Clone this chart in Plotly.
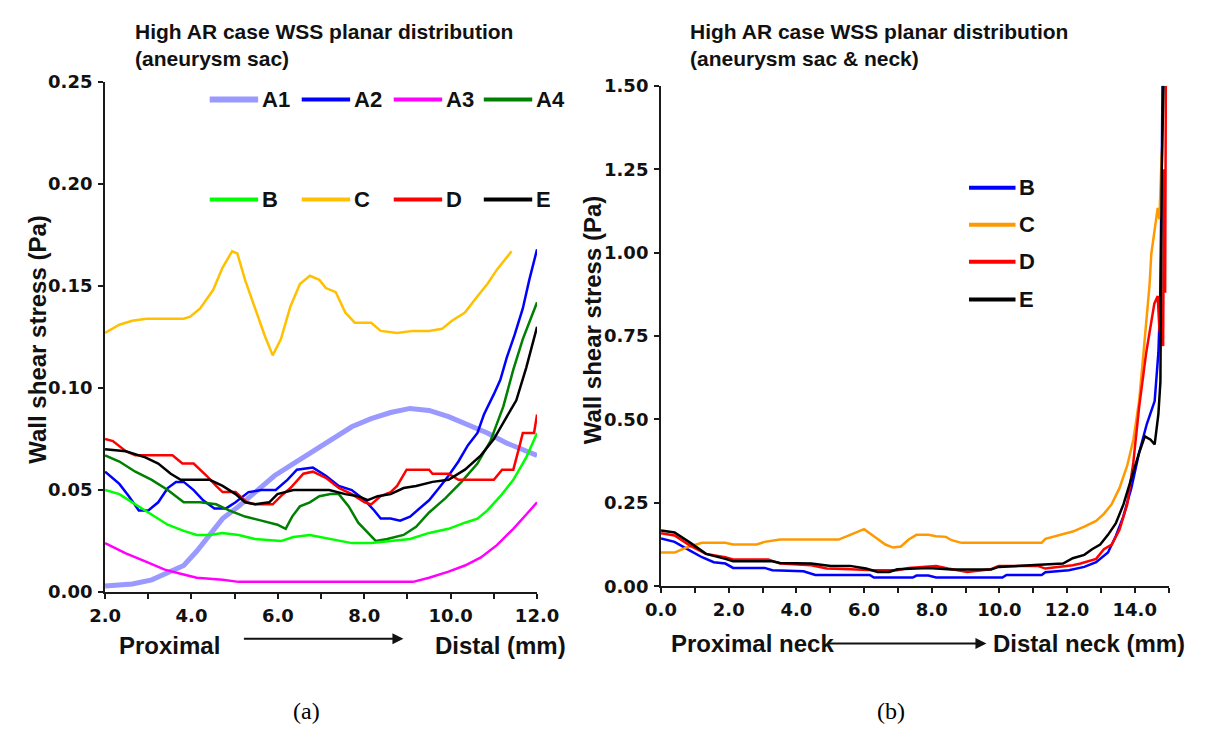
import plotly.graph_objects as go

W, H = 1207, 742

# ---------------- Panel (a): aneurysm sac ----------------
x_A1 = [2.0, 2.63, 3.08, 3.52, 3.82, 4.12, 4.42, 4.72, 5.09, 5.47, 5.92, 6.36, 6.81, 7.26, 7.71, 8.16, 8.61, 9.06, 9.5, 9.95, 10.4, 10.85, 11.3, 12.0]
y_A1 = [0.003, 0.004, 0.006, 0.010, 0.013, 0.020, 0.028, 0.036, 0.042, 0.049, 0.057, 0.063, 0.069, 0.075, 0.081, 0.085, 0.088, 0.090, 0.089, 0.086, 0.082, 0.078, 0.073, 0.067]

x_A2 = [2.0, 2.33, 2.55, 2.78, 3.0, 3.23, 3.45, 3.64, 3.82, 4.05, 4.27, 4.53, 4.8, 5.02, 5.32, 5.62, 5.95, 6.22, 6.44, 6.81, 7.11, 7.41, 7.71, 8.01, 8.23, 8.38, 8.61, 8.83, 9.06, 9.28, 9.5, 9.73, 9.95, 10.18, 10.4, 10.62, 10.77, 11.0, 11.15, 11.3, 11.48, 11.67, 11.82, 12.0]
y_A2 = [0.059, 0.053, 0.047, 0.040, 0.040, 0.044, 0.051, 0.054, 0.054, 0.050, 0.045, 0.041, 0.041, 0.044, 0.049, 0.050, 0.050, 0.055, 0.060, 0.061, 0.057, 0.052, 0.050, 0.045, 0.040, 0.036, 0.036, 0.035, 0.037, 0.041, 0.045, 0.051, 0.057, 0.064, 0.072, 0.078, 0.087, 0.097, 0.104, 0.115, 0.126, 0.139, 0.153, 0.168]

x_A3 = [2.0, 2.48, 2.93, 3.38, 3.75, 4.12, 4.72, 5.09, 6.22, 6.96, 7.41, 9.13, 9.5, 9.95, 10.33, 10.7, 11.07, 11.45, 11.75, 12.0]
y_A3 = [0.024, 0.019, 0.015, 0.011, 0.009, 0.007, 0.006, 0.005, 0.005, 0.005, 0.005, 0.005, 0.007, 0.010, 0.013, 0.017, 0.023, 0.031, 0.038, 0.044]

x_A4 = [2.0, 2.33, 2.7, 3.08, 3.45, 3.82, 4.2, 4.57, 4.87, 5.24, 5.62, 5.99, 6.18, 6.33, 6.51, 6.74, 6.96, 7.22, 7.41, 7.64, 7.86, 8.08, 8.27, 8.53, 8.91, 9.2, 9.5, 9.88, 10.25, 10.62, 10.92, 11.22, 11.45, 11.67, 12.0]
y_A4 = [0.067, 0.064, 0.059, 0.055, 0.050, 0.044, 0.044, 0.043, 0.040, 0.037, 0.035, 0.033, 0.031, 0.037, 0.042, 0.044, 0.047, 0.048, 0.048, 0.042, 0.034, 0.029, 0.025, 0.026, 0.028, 0.032, 0.039, 0.046, 0.054, 0.063, 0.074, 0.091, 0.109, 0.124, 0.142]

x_B = [2.0, 2.33, 2.7, 3.08, 3.45, 3.82, 4.12, 4.42, 4.72, 5.09, 5.47, 6.07, 6.36, 6.74, 7.19, 7.71, 8.16, 8.61, 9.06, 9.5, 9.95, 10.33, 10.62, 10.85, 11.15, 11.45, 11.75, 12.0]
y_B = [0.050, 0.048, 0.043, 0.038, 0.033, 0.030, 0.028, 0.028, 0.029, 0.028, 0.026, 0.025, 0.027, 0.028, 0.026, 0.024, 0.024, 0.025, 0.026, 0.029, 0.031, 0.034, 0.036, 0.040, 0.047, 0.055, 0.066, 0.078]

x_C = [2.0, 2.33, 2.63, 2.96, 3.23, 3.82, 3.97, 4.2, 4.5, 4.72, 4.94, 5.06, 5.24, 5.47, 5.69, 5.88, 6.07, 6.29, 6.51, 6.74, 6.96, 7.11, 7.34, 7.56, 7.78, 8.16, 8.38, 8.76, 9.13, 9.5, 9.8, 10.03, 10.33, 10.62, 10.85, 11.07, 11.41]
y_C = [0.127, 0.131, 0.133, 0.134, 0.134, 0.134, 0.135, 0.139, 0.148, 0.159, 0.167, 0.166, 0.153, 0.139, 0.126, 0.116, 0.124, 0.140, 0.151, 0.155, 0.153, 0.149, 0.147, 0.137, 0.132, 0.132, 0.128, 0.127, 0.128, 0.128, 0.129, 0.133, 0.137, 0.145, 0.151, 0.158, 0.167]

x_D = [2.0, 2.18, 2.48, 2.7, 3.56, 3.79, 4.05, 4.35, 4.57, 4.72, 5.02, 5.28, 5.47, 5.88, 6.07, 6.29, 6.59, 6.81, 7.11, 7.41, 7.71, 8.01, 8.16, 8.38, 8.61, 8.76, 8.98, 9.5, 9.58, 9.95, 10.18, 11.0, 11.19, 11.45, 11.6, 11.67, 11.93, 12.0]
y_D = [0.075, 0.074, 0.069, 0.067, 0.067, 0.063, 0.063, 0.057, 0.052, 0.049, 0.049, 0.044, 0.043, 0.043, 0.047, 0.051, 0.058, 0.059, 0.056, 0.051, 0.048, 0.044, 0.043, 0.047, 0.049, 0.052, 0.060, 0.060, 0.058, 0.058, 0.055, 0.055, 0.060, 0.060, 0.072, 0.078, 0.078, 0.087]

x_E = [2.0, 2.48, 2.93, 3.23, 3.52, 3.75, 4.2, 4.42, 4.72, 5.02, 5.24, 5.47, 5.8, 5.99, 6.36, 6.81, 7.19, 7.56, 7.86, 8.08, 8.31, 8.61, 8.91, 9.2, 9.58, 9.95, 10.33, 10.7, 11.0, 11.3, 11.52, 11.75, 11.93, 12.0]
y_E = [0.070, 0.069, 0.066, 0.063, 0.058, 0.055, 0.055, 0.055, 0.052, 0.048, 0.044, 0.043, 0.044, 0.048, 0.050, 0.050, 0.050, 0.048, 0.047, 0.045, 0.047, 0.048, 0.051, 0.052, 0.054, 0.055, 0.060, 0.067, 0.075, 0.086, 0.094, 0.110, 0.124, 0.130]

# ---------------- Panel (b): aneurysm sac & neck ----------------
xb_B = [0, 0.4, 0.87, 1.21, 1.56, 1.9, 2.13, 3.06, 3.29, 4.21, 4.56, 6.17, 6.29, 7.44, 7.55, 7.9, 8.13, 10.09, 10.21, 11.25, 11.36, 12.05, 12.51, 12.86, 13.21, 13.44, 13.66, 13.9, 14.13, 14.36, 14.59, 14.7, 14.75, 14.78, 14.8, 14.82]
yb_B = [0.143, 0.133, 0.106, 0.087, 0.072, 0.068, 0.055, 0.055, 0.048, 0.045, 0.034, 0.034, 0.026, 0.026, 0.032, 0.032, 0.026, 0.026, 0.034, 0.034, 0.042, 0.048, 0.058, 0.072, 0.101, 0.150, 0.208, 0.294, 0.400, 0.487, 0.555, 0.700, 0.850, 1.030, 1.250, 1.500]

xb_C = [0, 0.4, 0.75, 1.21, 1.9, 2.13, 2.83, 3.06, 3.52, 5.25, 5.59, 6.0, 6.29, 6.63, 6.86, 7.09, 7.32, 7.55, 7.9, 8.13, 8.42, 8.59, 8.88, 11.25, 11.36, 11.82, 12.17, 12.51, 12.86, 13.09, 13.32, 13.55, 13.78, 13.96, 14.13, 14.24, 14.34, 14.44, 14.49, 14.58, 14.68, 14.73, 14.8]
yb_C = [0.101, 0.101, 0.116, 0.130, 0.130, 0.125, 0.125, 0.133, 0.140, 0.140, 0.154, 0.171, 0.150, 0.125, 0.116, 0.119, 0.140, 0.154, 0.154, 0.150, 0.148, 0.138, 0.130, 0.130, 0.142, 0.154, 0.164, 0.179, 0.196, 0.217, 0.246, 0.294, 0.362, 0.439, 0.555, 0.676, 0.790, 0.905, 0.996, 1.065, 1.134, 1.100, 1.300]

xb_D = [0, 0.4, 0.87, 1.33, 1.9, 2.13, 3.17, 3.52, 4.44, 4.9, 5.59, 6.29, 6.98, 7.32, 8.13, 8.48, 9.05, 9.75, 9.98, 11.13, 11.36, 11.82, 12.17, 12.4, 12.86, 13.09, 13.32, 13.55, 13.78, 13.96, 14.13, 14.34, 14.49, 14.58, 14.68, 14.73, 14.84, 14.87, 14.9, 14.92]
yb_D = [0.159, 0.152, 0.121, 0.097, 0.087, 0.080, 0.080, 0.068, 0.063, 0.053, 0.051, 0.048, 0.048, 0.055, 0.061, 0.053, 0.043, 0.051, 0.061, 0.061, 0.053, 0.058, 0.063, 0.068, 0.082, 0.111, 0.125, 0.169, 0.246, 0.372, 0.536, 0.700, 0.790, 0.847, 0.870, 0.770, 0.720, 1.250, 0.880, 1.500]

xb_E = [0, 0.4, 0.87, 1.33, 1.9, 2.13, 3.29, 3.52, 4.44, 5.02, 5.59, 6.06, 6.4, 6.75, 6.98, 7.9, 8.59, 9.75, 9.98, 11.36, 11.88, 12.17, 12.51, 12.74, 12.98, 13.21, 13.44, 13.67, 13.9, 14.13, 14.3, 14.47, 14.59, 14.7, 14.76, 14.78, 14.8, 14.85]
yb_E = [0.167, 0.161, 0.130, 0.097, 0.082, 0.075, 0.075, 0.070, 0.068, 0.061, 0.061, 0.053, 0.043, 0.043, 0.051, 0.055, 0.050, 0.050, 0.058, 0.065, 0.068, 0.084, 0.094, 0.111, 0.125, 0.154, 0.188, 0.246, 0.323, 0.400, 0.449, 0.439, 0.425, 0.516, 0.613, 0.850, 1.250, 1.500]

left_names = ["A1", "A2", "A3", "A4", "B", "C", "D", "E"]
left_x = [x_A1, x_A2, x_A3, x_A4, x_B, x_C, x_D, x_E]
left_y = [y_A1, y_A2, y_A3, y_A4, y_B, y_C, y_D, y_E]
left_colors = ["#9999FF", "#0000FF", "#FF00FF", "#008000", "#00FF00", "#FFC000", "#FF0000", "#000000"]
left_widths = [5, 2.5, 2.5, 2.5, 2.5, 2.5, 2.5, 2.5]

right_names = ["B", "C", "D", "E"]
right_x = [xb_B, xb_C, xb_D, xb_E]
right_y = [yb_B, yb_C, yb_D, yb_E]
right_colors = ["#0000FF", "#FF9900", "#FF0000", "#000000"]

left_xrange = [2, 12]
right_xrange = [0, 15]

SANS = "Liberation Sans, Arial, sans-serif"
TICK = "DejaVu Sans, Verdana, sans-serif"
AX = "#1a1a1a"


def px(x):
    return x / W


def py(y):
    return 1 - y / H


fig = go.Figure()

for n, xs, ys, c, w in zip(left_names, left_x, left_y, left_colors, left_widths):
    fig.add_trace(go.Scatter(x=xs, y=ys, mode="lines", name=n, line=dict(color=c, width=w),
                             xaxis="x", yaxis="y", showlegend=False))

for n, xs, ys, c in zip(right_names, right_x, right_y, right_colors):
    fig.add_trace(go.Scatter(x=xs, y=ys, mode="lines", name=n, line=dict(color=c, width=2.5),
                             xaxis="x2", yaxis="y2", showlegend=False))

common = dict(showline=True, linecolor=AX, linewidth=2, ticks="outside", ticklen=5, tickwidth=2,
              tickcolor=AX, showgrid=False, zeroline=False,
              tickfont=dict(family=TICK, size=18, color="#111", weight="bold"))

fig.update_layout(
    width=W, height=H, margin=dict(l=0, r=0, t=0, b=0), autosize=False,
    paper_bgcolor="white", plot_bgcolor="white",
    xaxis=dict(domain=[px(92), px(538)], range=left_xrange, anchor="y", dtick=2, tick0=2,
               tickformat=".1f", ticklabelstandoff=1,
               minor=dict(dtick=1, ticks="outside", ticklen=5, tickwidth=2, tickcolor=AX), **common),
    yaxis=dict(domain=[py(598), py(73)], range=[0, 0.25], anchor="x", dtick=0.05,
               tickformat=".2f", ticklabelstandoff=2, **common),
    xaxis2=dict(domain=[px(666), px(1190)], range=right_xrange, anchor="y2", dtick=2, tick0=0,
                tickformat=".1f", ticklabelstandoff=1,
                minor=dict(dtick=1, ticks="outside", ticklen=5, tickwidth=2, tickcolor=AX), **common),
    yaxis2=dict(domain=[py(592), py(77)], range=[0, 1.5], anchor="x2", dtick=0.25,
                tickformat=".2f", ticklabelstandoff=2, **common),
)

ann = []
shapes = []


def text(x, y, s, font, xa="center", ya="middle", **kw):
    d = dict(x=px(x), y=py(y), xref="paper", yref="paper", xanchor=xa, yanchor=ya,
             showarrow=False, text=s, font=font)
    d.update(kw)
    ann.append(d)


title_font = dict(family=SANS, size=21, color="#111", weight="bold")
text(121, 7, "High AR case WSS planar distribution<br>(aneurysm sac)", title_font,
     xa="left", ya="top", align="left")
text(694, 7, "High AR case WSS planar distribution<br>(aneurysm sac &amp; neck)", title_font,
     xa="left", ya="top", align="left")

# y-axis titles
ytitle_font = dict(family=SANS, size=24, color="#111", weight="bold")
text(22, 338, "Wall shear stress (Pa)", ytitle_font, textangle=-90)
text(595, 318, "Wall shear stress (Pa)", ytitle_font, textangle=-90)

# x-axis descriptive labels with arrows
lab_font = dict(family=SANS, size=24, color="#111", weight="bold")
text(158, 653, "Proximal", lab_font)
text(500, 653, "Distal (mm)", lab_font)
ann.append(dict(x=px(400), y=py(646), xref="paper", yref="paper", showarrow=True, text="",
                ax=-161, ay=0, axref="pixel", ayref="pixel", arrowhead=2, arrowsize=1.1, arrowwidth=2,
                arrowcolor="#111"))
text(760, 651, "Proximal neck", lab_font)
text(1108, 651, "Distal neck (mm)", lab_font)
ann.append(dict(x=px(1002), y=py(651), xref="paper", yref="paper", showarrow=True, text="",
                ax=-159, ay=0, axref="pixel", ayref="pixel", arrowhead=2, arrowsize=1.1, arrowwidth=2,
                arrowcolor="#111"))

# panel labels
serif = dict(family="Liberation Serif, Times New Roman, serif", size=24, color="#000")
text(300, 720, "(a)", serif)
text(903, 720, "(b)", serif)

# legend for panel (a): two rows of four
leg_font = dict(family=SANS, size=22, color="#111", weight="bold")
col_x = [200, 295, 390, 483]
row_y = [91, 194]
for i, (n, c, w) in enumerate(zip(left_names, left_colors, left_widths)):
    r, k = divmod(i, 4)
    x0 = col_x[k]
    yy = row_y[r]
    shapes.append(dict(type="line", xref="paper", yref="paper", x0=px(x0), x1=px(x0 + 50),
                       y0=py(yy), y1=py(yy), line=dict(color=c, width=6 if w > 3 else 4)))
    text(x0 + 52, yy, n, leg_font, xa="left")

# legend for panel (b): vertical
rrow = [182, 220, 258, 297]
for n, c, yy in zip(right_names, right_colors, rrow):
    shapes.append(dict(type="line", xref="paper", yref="paper", x0=px(984), x1=px(1032),
                       y0=py(yy), y1=py(yy), line=dict(color=c, width=4)))
    text(1034, yy, n, leg_font, xa="left")

fig.update_layout(annotations=ann, shapes=shapes)

fig.write_html("out.html", post_script="document.body.style.margin='0';document.body.style.overflow='hidden';")
